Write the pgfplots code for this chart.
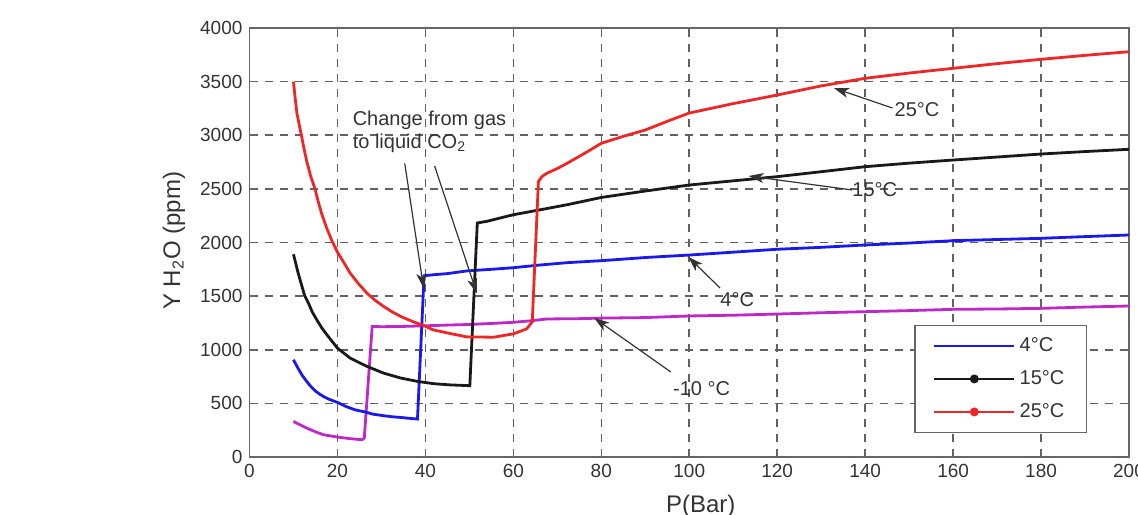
\documentclass[border=0pt]{standalone}
\usepackage{fontspec}
\setmainfont{Liberation Sans}
\usepackage{pgfplots}
\pgfplotsset{compat=1.18}
\usetikzlibrary{arrows.meta,calc}

\definecolor{cfour}{RGB}{25,25,235}
\definecolor{cfifteen}{RGB}{25,25,25}
\definecolor{ctwentyfive}{RGB}{238,38,38}
\definecolor{cminusten}{RGB}{190,40,200}

\begin{document}
\begin{tikzpicture}[
  arr/.style={draw=black!80, line width=0.6pt, -{Stealth[length=7.5pt,width=5pt,inset=2pt]}},
  lbl/.style={inner sep=0pt, anchor=base, font=\fontsize{10}{11}\selectfont, text=black!80}
]
\begin{axis}[
    name=ax,
    scale only axis,
    width=439.75pt,
    height=214.5pt,
    xmin=0, xmax=200,
    ymin=0, ymax=4000,
    xtick={0,20,...,200},
    ytick={0,500,...,4000},
    grid=major,
    major grid style={black!62, line width=0.8pt, dash pattern=on 4pt off 3.5pt},
    axis line style={black!60, line width=0.9pt},
    tick style={black!60, line width=0.8pt},
    tick align=inside,
    major tick length=3pt,
    ticklabel style={font=\fontsize{9.5}{10}\selectfont, text=black!80},
    /pgf/number format/assume math mode=true,
    /pgf/number format/1000 sep={},
    scaled ticks=false,
    xlabel={P(Bar)},
    ylabel={Y H\textsubscript{2}O (ppm)},
    label style={font=\fontsize{12}{13}\selectfont, text=black!80},
    xlabel style={at={(axis description cs:0.513,-0.1305)}, anchor=base},
    ylabel style={at={(axis description cs:-0.079,0.504)}, anchor=base},
    legend style={at={(axis description cs:0.9526,0.0552)}, anchor=south east,
        draw=black!60, line width=0.9pt, fill=white,
        font=\fontsize{10}{11}\selectfont, text=black!80,
        inner xsep=9pt, inner ysep=4pt, row sep=4pt},
    legend cell align=left,
    legend image code/.code={\draw[mark repeat=2,mark phase=2,#1] plot coordinates {(0pt,0pt) (20pt,0pt) (40pt,0pt)};},
]

% -10 C
\addplot[cminusten, line width=1.4pt, forget plot] coordinates {
  (10,332) (11,310) (13,270) (15,235) (16.8,208) (20,186) (22.9,171) (25.6,161)
  (26.1,177) (27.9,1217) (30,1215) (34.4,1217) (39.7,1223) (45,1230) (49.4,1235)
  (55,1245) (60,1256) (64,1270) (67.6,1287) (75,1290) (80,1295) (90,1300)
  (100,1315) (110,1322) (120,1333) (130,1345) (140,1355) (150,1365) (160,1377)
  (170,1380) (180,1386) (190,1398) (200,1408)
};
% 4 C
\addplot[cfour, line width=1.4pt, forget plot] coordinates {
  (10,907) (11,830) (12,760) (13,705) (14,655) (15,615) (16,585) (17,560)
  (18,540) (20,509) (22,470) (24,440) (26.7,416) (28,400) (30.5,385) (32.5,375)
  (34.4,369) (36,362) (38.2,354) (39.7,1690) (42,1700) (45,1710) (49.4,1735)
  (55,1750) (60,1765) (66,1790) (72.2,1812) (79.8,1830) (85,1845) (90,1860)
  (100,1883) (110,1910) (120,1937) (130,1955) (140,1977) (150,1995) (160,2017)
  (170,2028) (180,2039) (190,2055) (200,2070)
};
% 15 C
\addplot[cfifteen, line width=1.4pt, forget plot] coordinates {
  (10,1890) (11,1725) (11.5,1652) (12.5,1510) (13.4,1435) (14.3,1350) (15.3,1279)
  (16.5,1200) (17.6,1140) (20,1015) (22.9,922) (26.7,845) (30.5,782) (34.4,736)
  (38.2,705) (42,683) (45.8,672) (50.1,665) (51.8,2182) (53.9,2197) (60,2259)
  (66.1,2305) (72.2,2352) (80,2420) (90,2480) (100,2536) (110,2575) (120,2614)
  (130,2660) (140,2707) (150,2740) (160,2769) (170,2797) (180,2825) (190,2848)
  (200,2869)
};
% 25 C
\addplot[ctwentyfive, line width=1.4pt, forget plot] coordinates {
  (10,3500) (10.4,3340) (10.8,3200) (11.3,3100) (11.8,3000) (12.4,2875) (13,2760)
  (13.9,2620) (14.9,2500) (15.6,2385) (16.4,2270) (17.5,2140)
  (18.7,2020) (20,1910) (21.5,1810) (22.9,1714) (24.8,1615) (26.7,1528) (28.6,1460)
  (30.5,1404) (32.5,1352) (34.4,1310) (37,1265) (39.7,1224) (41.8,1185) (45.8,1150)
  (49.4,1120) (55.5,1117) (60,1148) (63,1194) (64.3,1260) (65.7,2568) (66.5,2615)
  (67.6,2645) (70,2690) (72.2,2738) (76.8,2846) (80,2925) (85,2990) (90,3049)
  (95,3130) (100,3207) (110,3295) (120,3375) (130,3460) (140,3531) (150,3580)
  (160,3624) (170,3668) (180,3708) (190,3745) (200,3779)
};

\addlegendimage{cfour, line width=1.4pt, mark=none}
\addlegendentry{4°C}
\addlegendimage{cfifteen, line width=1.4pt, mark=*, mark size=1.5pt}
\addlegendentry{15°C}
\addlegendimage{ctwentyfive, line width=1.4pt, mark=*, mark size=1.5pt}
\addlegendentry{25°C}

% annotations
\node[lbl, anchor=base west] at (axis cs:23.4,3095) {Change from gas};
\node[lbl, anchor=base west] at (axis cs:23.4,2878) {to liquid CO\textsubscript{2}};
\draw[arr] (axis cs:35.3,2738) -- (axis cs:39.6,1573);
\draw[arr] (axis cs:42.1,2713) -- (axis cs:51.7,1526);

\draw[arr] (axis cs:146.2,3254) -- (axis cs:132.9,3440);
\node[lbl] at (axis cs:151.8,3173) {25°C};
\draw[arr] (axis cs:137,2490) -- (axis cs:113.5,2620);
\node[lbl] at (axis cs:142.2,2427) {15°C};
\draw[arr] (axis cs:107,1576) -- (axis cs:99.8,1865);
\node[lbl] at (axis cs:110.9,1401) {4°C};
\draw[arr] (axis cs:95.8,793) -- (axis cs:78.4,1296);
\node[lbl] at (axis cs:102.8,578) {-10 °C};
\end{axis}
\pgfresetboundingbox
\path[use as bounding box] ($(ax.south west)+(-124.75pt,-28.5pt)$) rectangle ($(ax.north east)+(4.5pt,14pt)$);
\end{tikzpicture}
\end{document}
